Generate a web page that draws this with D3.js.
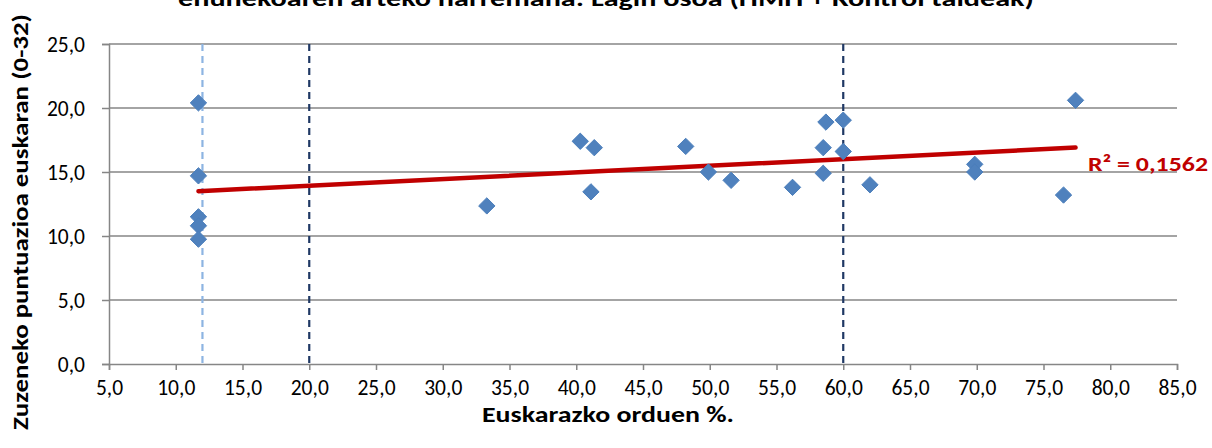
<!DOCTYPE html>
<html>
<head>
<meta charset="utf-8">
<script src="https://cdn.jsdelivr.net/npm/d3@7"></script>
<style>
  html, body { margin: 0; padding: 0; background: #fff; }
  svg { display: block; }
  text { font-family: Carlito, Calibri, "Open Sans", Lato, sans-serif; }
</style>
</head>
<body>
<svg id="chart" width="1212" height="448"></svg>
<script>
// ---- Data ----
const titleText = "ehunekoaren arteko harremana: Lagin osoa (HMH + Kontrol taldeak)";
const xTitle = "Euskarazko orduen %.";
const yTitle = "Zuzeneko puntuazioa euskaran (0-32)";
const r2Label = "R² = 0,1562";

const xValues = [11.7, 11.7, 11.7, 11.7, 11.7, 33.3, 40.3, 41.1, 41.35, 48.2, 49.9, 51.6, 56.2,
                 58.7, 58.5, 58.5, 60.0, 60.0, 62.0, 69.85, 69.85, 76.5, 77.4];
const yValues = [20.4, 14.7, 11.5, 10.8, 9.75, 12.35, 17.4, 13.45, 16.9, 17.0, 15.0, 14.35, 13.8,
                 18.9, 16.9, 14.9, 19.05, 16.6, 14.0, 15.6, 15.0, 13.2, 20.6];

const xTicks = [5, 10, 15, 20, 25, 30, 35, 40, 45, 50, 55, 60, 65, 70, 75, 80, 85];
const yTicks = [0, 5, 10, 15, 20, 25];
const refLineX = [12, 20, 60];
const refLineColors = ["#8db4e2", "#1f3864", "#1f3864"];

// ---- Layout ----
const svg = d3.select("#chart");
const plot = { left: 109, right: 1177, top: 44, bottom: 364 };

const x = d3.scaleLinear().domain([5, 85]).range([plot.left, plot.right]);
const y = d3.scaleLinear().domain([0, 25]).range([plot.bottom, plot.top]);
const fmt = d => d.toFixed(1).replace(".", ",");
const axisColor = "#868686";

// gridlines
svg.append("g").selectAll("line").data(yTicks.filter(d => d > 0)).join("line")
  .attr("x1", plot.left).attr("x2", plot.right)
  .attr("y1", d => y(d)).attr("y2", d => y(d))
  .attr("stroke", axisColor).attr("stroke-width", 1.5);

// axes
const xAxis = svg.append("g").attr("transform", `translate(0,${plot.bottom})`)
  .call(d3.axisBottom(x).tickValues(xTicks).tickFormat(fmt).tickSize(6).tickPadding(8));
const yAxis = svg.append("g").attr("transform", `translate(${plot.left},0)`)
  .call(d3.axisLeft(y).tickValues(yTicks).tickFormat(fmt).tickSize(7).tickPadding(17));
[xAxis, yAxis].forEach(g => {
  g.select(".domain").attr("stroke", axisColor).attr("stroke-width", 1.5);
  g.selectAll(".tick line").attr("stroke", axisColor).attr("stroke-width", 1.5);
  g.selectAll(".tick text").attr("fill", "#000").style("font-size", "21.5px")
    .style("font-family", 'Carlito, Calibri, "Open Sans", sans-serif');
});
xAxis.selectAll(".tick text").attr("dy", "0.78em");
yAxis.selectAll(".tick text").attr("dy", "0.34em");

// reference dashed lines
svg.append("g").selectAll("line").data(refLineX).join("line")
  .attr("x1", d => x(d)).attr("x2", d => x(d))
  .attr("y1", plot.top).attr("y2", plot.bottom)
  .attr("stroke", (d, i) => refLineColors[i])
  .attr("stroke-width", 2.2).attr("stroke-dasharray", "7,5");

// linear regression trend line
const n = xValues.length;
const mx = d3.mean(xValues), my = d3.mean(yValues);
let sxy = 0, sxx = 0;
for (let i = 0; i < n; i++) { sxy += (xValues[i] - mx) * (yValues[i] - my); sxx += (xValues[i] - mx) ** 2; }
const slope = sxy / sxx, intercept = my - slope * mx;
const [x0, x1] = d3.extent(xValues);
svg.append("line")
  .attr("x1", x(x0)).attr("y1", y(intercept + slope * x0))
  .attr("x2", x(x1)).attr("y2", y(intercept + slope * x1))
  .attr("stroke", "#c00000").attr("stroke-width", 4.5).attr("stroke-linecap", "round");

// points (diamonds)
const diamond = d3.symbol().type(d3.symbolDiamond2).size(170);
svg.append("g").selectAll("path").data(xValues.map((v, i) => [v, yValues[i]])).join("path")
  .attr("d", diamond)
  .attr("transform", d => `translate(${x(d[0])},${y(d[1])})`)
  .attr("fill", "#4f81bd").attr("stroke", "#4a7ebb").attr("stroke-width", 1);

// R² label
svg.append("text").attr("x", 1088).attr("y", 171)
  .attr("fill", "#c00000").attr("font-weight", "bold").style("font-size", "21px")
  .attr("textLength", 120).attr("lengthAdjust", "spacingAndGlyphs")
  .text(r2Label);

// title (partially cut at the top, as in the reference)
svg.append("text").attr("x", 606).attr("y", 6).attr("text-anchor", "middle")
  .attr("font-weight", "bold").style("font-size", "22px")
  .attr("textLength", 856).attr("lengthAdjust", "spacingAndGlyphs")
  .text(titleText);

// axis titles
svg.append("text").attr("x", 608).attr("y", 422).attr("text-anchor", "middle")
  .attr("font-weight", "bold").style("font-size", "22px")
  .attr("textLength", 252).attr("lengthAdjust", "spacingAndGlyphs")
  .text(xTitle);
svg.append("text").attr("transform", "translate(28,222) rotate(-90)").attr("text-anchor", "middle")
  .attr("font-weight", "bold").style("font-size", "22px")
  .attr("textLength", 416).attr("lengthAdjust", "spacingAndGlyphs")
  .text(yTitle);
</script>
</body>
</html>
